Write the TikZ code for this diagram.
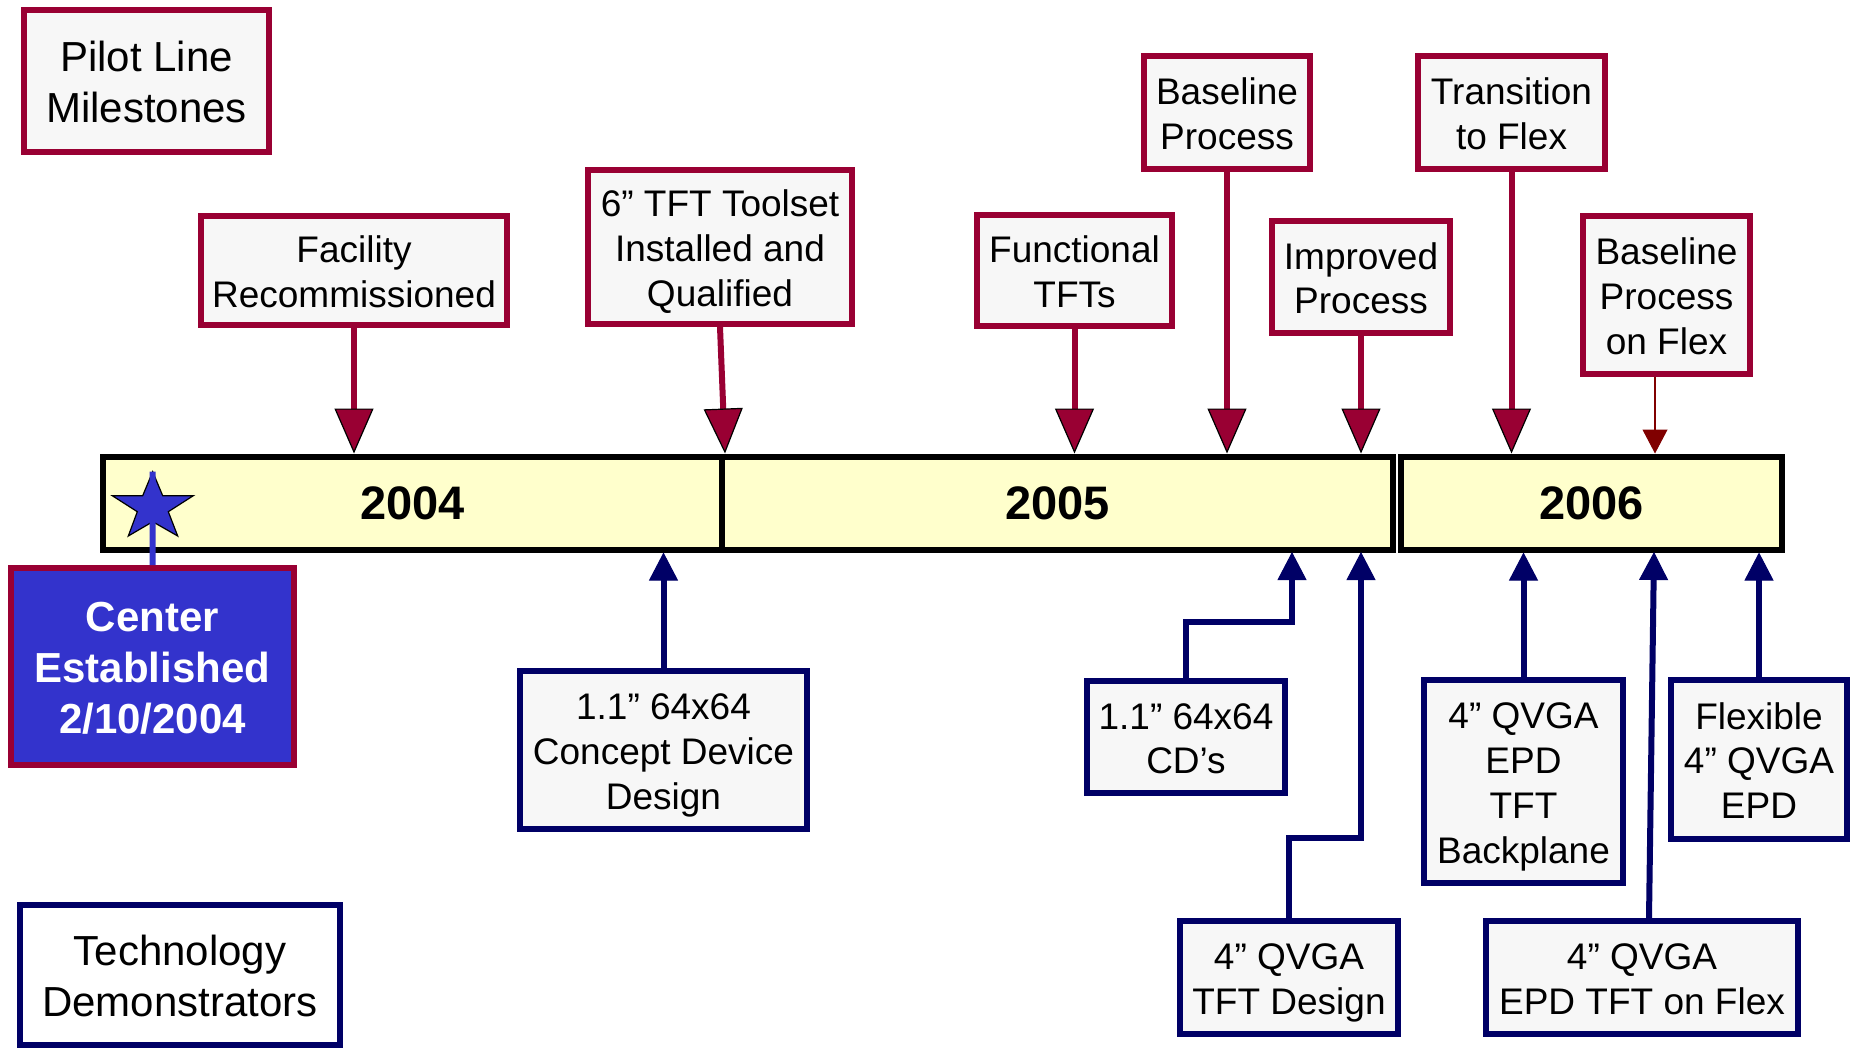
\documentclass[tikz,border=0pt]{standalone}
\usepackage{fontspec}
\setmainfont{Liberation Sans}
\usetikzlibrary{arrows.meta}
\definecolor{crim}{HTML}{990033}
\definecolor{navyb}{HTML}{000066}
\definecolor{barfill}{HTML}{FFFFCC}
\definecolor{boxfill}{HTML}{F7F7F7}
\definecolor{cblue}{HTML}{3333CC}
\definecolor{dred}{HTML}{800000}
\newcommand\hsa{\rule{0pt}{18.4pt}}
\newcommand\dsa{\rule[-4pt]{0pt}{4pt}}
\newcommand\hsb{\rule{0pt}{20.4pt}}
\newcommand\dsb{\rule[-4.3pt]{0pt}{4.3pt}}
\begin{document}
\begin{tikzpicture}[x=0.5pt,y=-0.5pt,
  every node/.style={inner sep=0pt},
  redbox/.style={draw=crim, fill=boxfill, line width=3pt, outer sep=1.5pt, align=center,
    font=\fontsize{18.5}{22.4}\selectfont},
  bluebox/.style={redbox, draw=navyb},
  bigtxt/.style={font=\fontsize{21}{25.5}\selectfont},
  barseg/.style={draw=black, fill=barfill, line width=3pt, outer sep=1.5pt,
    font=\fontsize{23.5}{28}\selectfont\bfseries},
  redarrow/.style={draw=crim, line width=3pt,
    -{Triangle[length=22.5pt,width=19.5pt,fill=crim,color=black,line width'=0.6pt]}},
  navyarrow/.style={draw=navyb, line width=3pt,
    -{Triangle[length=14pt,width=14.5pt,fill=navyb,color=navyb,line width'=0.5pt]}},
  smallarrow/.style={draw=dred, line width=1pt,
    -{Triangle[length=12pt,width=12.5pt,fill=dred,color=dred,line width'=0.5pt]}},
  blueline/.style={draw=cblue, line width=3pt}
]
\useasboundingbox (0,0) rectangle (1857,1051);

% timeline bar
\node[barseg, minimum width=309.5pt, minimum height=46.5pt] (y2004) at (412.5,503) {2004};
\node[barseg, minimum width=335.5pt, minimum height=46.5pt] (y2005) at (1057.5,503) {2005};
\node[barseg, minimum width=190.5pt, minimum height=46.5pt] (y2006) at (1591.5,503) {2006};

% legend boxes
\node[redbox, bigtxt, minimum width=122.5pt, minimum height=71pt] (pilot) at (146.5,81) {\hsb Pilot Line\\Milestones\dsb};
\node[bluebox, bigtxt, fill=white, minimum width=160pt, minimum height=70pt] (techdemo) at (180,975) {\hsb Technology\\Demonstrators\dsb};

% milestones (top)
\node[redbox, minimum width=153pt, minimum height=54.5pt] (facility) at (354,270.5) {\hsa Facility\\Recommissioned\dsa};
\node[redbox, minimum width=132pt, minimum height=77pt] (toolset) at (720,247) {\hsa 6” TFT Toolset\\Installed and\\Qualified\dsa};
\node[redbox, minimum width=97.5pt, minimum height=55.5pt] (functional) at (1074.5,270.5) {\hsa Functional\\TFTs\dsa};
\node[redbox, minimum width=83pt, minimum height=56.5pt] (baseline) at (1227,112.5) {\hsa Baseline\\Process\dsa};
\node[redbox, minimum width=89pt, minimum height=56pt] (improved) at (1361,277) {\hsa Improved\\Process\dsa};
\node[redbox, minimum width=93.5pt, minimum height=56.5pt] (transition) at (1511.5,112.5) {\hsa Transition\\to Flex\dsa};
\node[redbox, minimum width=83.5pt, minimum height=79pt] (onflex) at (1666.5,295) {\hsa Baseline\\Process\\on Flex\dsa};

% demonstrators (bottom)
\node[bluebox, minimum width=143.5pt, minimum height=79pt] (concept) at (663.5,750) {\hsa 1.1” 64x64\\Concept Device\\Design\dsa};
\node[bluebox, minimum width=99pt, minimum height=56pt] (cds) at (1186,737) {\hsa 1.1” 64x64\\CD’s\dsa};
\node[bluebox, minimum width=109pt, minimum height=56.5pt] (tftd) at (1289,977.5) {\hsa 4” QVGA\\TFT Design\dsa};
\node[bluebox, minimum width=99.5pt, minimum height=101.5pt] (backplane) at (1523.5,781.5) {\hsa 4” QVGA\\EPD\\TFT\\Backplane\dsa};
\node[bluebox, minimum width=88pt, minimum height=79.5pt] (flexepd) at (1759,759.5) {\hsa Flexible\\4” QVGA\\EPD\dsa};
\node[bluebox, minimum width=156pt, minimum height=56.5pt] (epdflex) at (1642,977.5) {\hsa 4” QVGA\\EPD TFT on Flex\dsa};

% center established
\node[redbox, fill=cblue, text=white, minimum width=141.5pt, minimum height=98.5pt,
  font=\fontsize{21}{25.5}\selectfont\bfseries] (center) at (152.5,666.5) {\hsb Center\\Established\\2/10/2004\dsb};

% star
\draw[fill=cblue, draw=black, line width=0.6pt]
  (152.7,471.7) -- (162.7,495.7) -- (193.3,495.7) -- (168.3,511.7) -- (177.7,536)
  -- (152.7,521.7) -- (128.3,536) -- (137.3,511.7) -- (112.3,495.7) -- (142.7,495.7) -- cycle;
\coordinate (startop) at (152.7,471.7);
\draw[blueline] (center.north) -- (startop);

% milestone arrows
\draw[redarrow] (facility.south) -- (facility.south |- y2004.north);
\draw[redarrow] (toolset.south) -- (y2004.north east);
\draw[redarrow] (functional.south) -- (functional.south |- y2005.north);
\draw[redarrow] (baseline.south) -- (baseline.south |- y2005.north);
\draw[redarrow] (improved.south) -- (improved.south |- y2005.north);
\draw[redarrow] (transition.south) -- (transition.south |- y2006.north);
\draw[smallarrow] ([xshift=-5.75pt]onflex.south) -- ([xshift=-5.75pt]onflex.south |- y2006.north);

% demonstrator arrows
\coordinate (a10) at (1292,552);
\coordinate (a11) at (1361,552);
\coordinate (a14) at (1654,552);
\draw[navyarrow] (concept.north) -- (concept.north |- y2004.south);
\draw[navyarrow] (cds.north) -- ++(0,-56) -| (a10);
\draw[navyarrow] (tftd.north) -- ++(0,-80) -| (a11);
\draw[navyarrow] (backplane.north) -- (backplane.north |- y2006.south);
\draw[navyarrow] (flexepd.north) -- (flexepd.north |- y2006.south);
\draw[navyarrow] ([xshift=3.5pt]epdflex.north) -- (a14);
\end{tikzpicture}
\end{document}
